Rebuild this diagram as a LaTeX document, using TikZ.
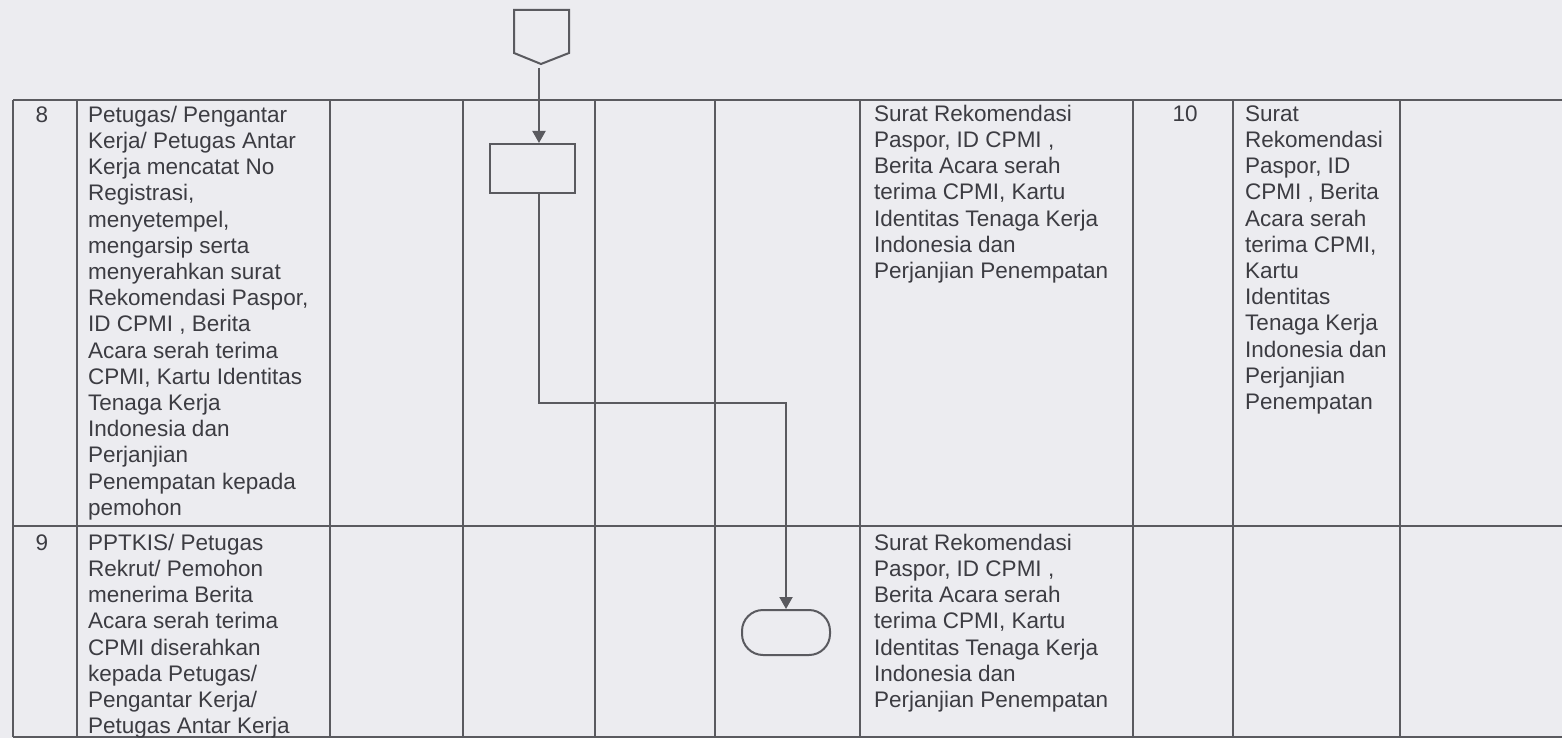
\documentclass[tikz,border=0pt]{standalone}
\usepackage{fontspec}
\setmainfont{Liberation Sans}
\usetikzlibrary{arrows.meta}
\definecolor{bg}{RGB}{236,236,240}
\definecolor{ln}{RGB}{90,90,95}
\definecolor{tx}{RGB}{60,60,66}
\begin{document}
\begin{tikzpicture}[x=1pt,y=-1pt,
 grid/.style={draw=ln,line width=2pt},
 cell/.style={anchor=north west,inner sep=0pt,align=left,text=tx,font=\fontsize{22.5}{26.2}\selectfont},
 num/.style={anchor=north,inner sep=0pt,text=tx,font=\fontsize{22.5}{26.2}\selectfont},
 fshape/.style={draw=ln,line width=2pt,inner sep=0pt},
 flow/.style={draw=ln,line width=2pt,-{Triangle[length=12pt,width=13pt]}}]
\fill[bg] (0,0) rectangle (1562,738);
\useasboundingbox (0,0) rectangle (1562,738);
% table grid
\draw[grid] (13,100) -- (1562,100);
\draw[grid] (13,526) -- (1562,526);
\draw[grid] (13,737) -- (1562,737);
\foreach \x in {13,77,330,463,595,715,860,1133,1233,1400}
  \draw[grid] (\x,100) -- (\x,737);
% flowchart shapes
\draw[fshape] (514,10) -- (569,10) -- (569,53) -- (541,64) -- (514,53) -- cycle;
\coordinate (opc) at (539,68);
\node[fshape,minimum width=85pt,minimum height=49pt] (proc) at (532.5,168.5) {};
\node[fshape,rounded corners=21pt,minimum width=88pt,minimum height=45pt] (term) at (786,632.5) {};
\draw[flow] (opc) -- (opc |- proc.north);
\draw[flow] (opc |- proc.south) -- (539,403) -| (term.north);
% row 8
\node[num] (n8) at (42,103.7) {\strut 8};
\node[cell] (t8) at (88,103.7) {\strut Petugas/ Pengantar\\Kerja/ Petugas Antar\\Kerja mencatat No\\Registrasi,\\menyetempel,\\mengarsip serta\\menyerahkan surat\\Rekomendasi Paspor,\\ID CPMI , Berita\\Acara serah terima\\CPMI, Kartu Identitas\\Tenaga Kerja\\Indonesia dan\\Perjanjian\\Penempatan kepada\\pemohon};
\node[cell] (d8) at (874,102.7) {\strut Surat Rekomendasi\\Paspor, ID CPMI ,\\Berita Acara serah\\terima CPMI, Kartu\\Identitas Tenaga Kerja\\Indonesia dan\\Perjanjian Penempatan};
\node[num] (w8) at (1185,102.7) {\strut 10};
\node[cell] (o8) at (1245,102.7) {\strut Surat\\Rekomendasi\\Paspor, ID\\CPMI , Berita\\Acara serah\\terima CPMI,\\Kartu\\Identitas\\Tenaga Kerja\\Indonesia dan\\Perjanjian\\Penempatan};
% row 9
\node[num] (n9) at (42,531.7) {\strut 9};
\node[cell] (t9) at (88,531.7) {\strut PPTKIS/ Petugas\\Rekrut/ Pemohon\\menerima Berita\\Acara serah terima\\CPMI diserahkan\\kepada Petugas/\\Pengantar Kerja/\\Petugas Antar Kerja};
\node[cell] (d9) at (874,531.7) {\strut Surat Rekomendasi\\Paspor, ID CPMI ,\\Berita Acara serah\\terima CPMI, Kartu\\Identitas Tenaga Kerja\\Indonesia dan\\Perjanjian Penempatan};
\end{tikzpicture}
\end{document}
